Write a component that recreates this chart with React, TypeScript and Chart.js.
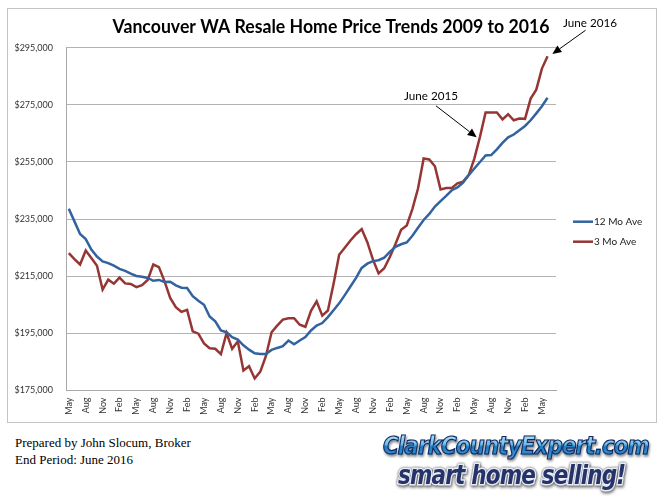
import React, { useEffect, useLayoutEffect, useRef, useState } from "react";
import { Chart, registerables } from "chart.js";

Chart.register(...registerables);

// ---------- DATA ----------
const titleText = "Vancouver WA Resale Home Price Trends 2009 to 2016";
const seriesNames = ["12 Mo Ave", "3 Mo Ave"];
const seriesColors = ["#32639f", "#963634"];

// Monthly categories: May 2009 .. June 2016 (86 months) + one empty slot
const monthNames = ["Jan", "Feb", "Mar", "Apr", "May", "Jun", "Jul", "Aug", "Sep", "Oct", "Nov", "Dec"];
const categories: string[] = [];
for (let k = 0; k < 87; k++) {
  const m = (4 + k) % 12;
  const y = 2009 + Math.floor((4 + k) / 12);
  categories.push(`${monthNames[m]} ${y}`);
}

// Axis labels shown every third month
const tickLabels = [
  "May", "Aug", "Nov", "Feb", "May", "Aug", "Nov", "Feb", "May", "Aug",
  "Nov", "Feb", "May", "Aug", "Nov", "Feb", "May", "Aug", "Nov", "Feb",
  "May", "Aug", "Nov", "Feb", "May", "Aug", "Nov", "Feb", "May",
];

const yMin = 175000;
const yMax = 295000;
const yStep = 20000;

// 12 month moving average (thousands of dollars)
const ave12 = [
  238.6, 234.2, 229.8, 228.0, 224.3, 221.9, 220.2, 219.6, 218.7, 217.6,
  216.9, 215.9, 215.1, 214.8, 214.4, 213.4, 213.7, 213.0, 213.1, 211.8,
  211.0, 210.9, 208.0, 206.4, 205.0, 200.9, 199.2, 196.0, 195.4, 193.7,
  192.8, 190.8, 189.3, 188.0, 187.8, 187.8, 189.2, 189.9, 190.5, 192.5,
  191.2, 192.5, 193.7, 196.0, 197.7, 198.6, 200.7, 203.1, 205.5, 208.4,
  211.4, 214.4, 217.9, 219.4, 220.3, 220.6, 221.5, 223.5, 225.3, 226.2,
  226.8, 229.2, 232.0, 234.7, 236.8, 239.4, 241.3, 243.1, 245.1, 246.1,
  247.8, 250.4, 252.7, 255.0, 257.3, 257.4, 259.4, 261.7, 263.6, 264.6,
  266.1, 267.6, 269.6, 272.0, 274.5, 277.5,
];

// 3 month moving average (thousands of dollars)
const ave3 = [
  223.1, 221.0, 219.1, 224.0, 221.4, 218.7, 210.3, 213.8, 212.4, 214.5,
  212.5, 212.3, 211.2, 211.9, 213.7, 219.1, 218.2, 213.2, 207.4, 204.2,
  202.5, 203.2, 195.7, 194.9, 191.5, 189.8, 189.6, 187.7, 195.1, 189.6,
  192.2, 182.0, 183.5, 179.2, 181.6, 187.1, 195.4, 197.7, 199.8, 200.3,
  200.3, 198.0, 197.3, 202.9, 206.2, 201.2, 203.0, 212.3, 222.5, 225.0,
  227.5, 229.7, 231.5, 226.9, 220.8, 216.0, 217.8, 221.7, 226.3, 231.3,
  232.8, 238.5, 245.7, 256.2, 255.9, 253.5, 245.4, 245.9, 245.9, 247.5,
  248.1, 250.4, 256.2, 263.8, 272.3, 272.3, 272.3, 269.9, 271.7, 269.6,
  270.2, 270.1, 277.2, 280.3, 287.7, 292.0,
];

// Annotations: [label, category index]
const annotations: { text: string; index: number; tip: [number, number]; tail: [number, number]; label: [number, number] }[] = [
  { text: "June 2015", index: 73, tip: [-3.3, 0.4], tail: [-44, -31], label: [-49, -41] },
  { text: "June 2016", index: 85, tip: [4.8, -2.3], tail: [38, -26], label: [42.5, -33] },
];

const FONT = "Lato, 'Open Sans', 'DejaVu Sans', sans-serif";

function fitFill(ctx: CanvasRenderingContext2D, text: string, cx: number, cy: number, width: number) {
  const w = ctx.measureText(text).width;
  ctx.save();
  ctx.translate(cx, cy);
  ctx.scale(width / w, 1);
  ctx.textAlign = "center";
  ctx.textBaseline = "middle";
  ctx.fillText(text, 0, 0);
  ctx.restore();
}

function drawArrow(ctx: CanvasRenderingContext2D, x1: number, y1: number, x2: number, y2: number) {
  const ang = Math.atan2(y2 - y1, x2 - x1);
  const hl = 9;
  const hw = 4;
  const bx = x2 - hl * Math.cos(ang);
  const by = y2 - hl * Math.sin(ang);
  ctx.beginPath();
  ctx.moveTo(x1, y1);
  ctx.lineTo(bx, by);
  ctx.strokeStyle = "#000";
  ctx.lineWidth = 1;
  ctx.stroke();
  ctx.beginPath();
  ctx.moveTo(x2, y2);
  ctx.lineTo(bx + hw * Math.sin(ang), by - hw * Math.cos(ang));
  ctx.lineTo(bx - hw * Math.sin(ang), by + hw * Math.cos(ang));
  ctx.closePath();
  ctx.fillStyle = "#000";
  ctx.fill();
}

const overlayPlugin = {
  id: "overlay",
  afterDraw(chart: any) {
    const ctx: CanvasRenderingContext2D = chart.ctx;
    const xs = chart.scales.x;
    const ys = chart.scales.y;
    const area = chart.chartArea;
    ctx.save();

    // Title
    ctx.fillStyle = "#000";
    ctx.font = `bold 18px ${FONT}`;
    fitFill(ctx, titleText, (area.left + area.right) / 2 + 20, 18.5, 437);

    // Legend
    ctx.font = `10px ${FONT}`;
    const lx = area.right + 17;
    const legendY = [area.top + 174, area.top + 194];
    seriesNames.forEach((name, i) => {
      ctx.beginPath();
      ctx.moveTo(lx, legendY[i]);
      ctx.lineTo(lx + 20, legendY[i]);
      ctx.strokeStyle = seriesColors[i];
      ctx.lineWidth = 2.5;
      ctx.stroke();
      ctx.fillStyle = "#222";
      ctx.textAlign = "left";
      ctx.textBaseline = "middle";
      ctx.fillText(name, lx + 21, legendY[i]);
    });

    // Annotations with arrows
    annotations.forEach((a) => {
      const px = xs.getPixelForValue(a.index);
      const py = ys.getPixelForValue(ave3[a.index] * 1000);
      drawArrow(ctx, px + a.tail[0], py + a.tail[1], px + a.tip[0], py + a.tip[1]);
      ctx.fillStyle = "#000";
      ctx.font = `12px ${FONT}`;
      fitFill(ctx, a.text, px + a.label[0], py + a.label[1], 54);
    });

    ctx.restore();
  },
};

function FitText({ width, style, children }: { width: number; style: React.CSSProperties; children: React.ReactNode }) {
  const ref = useRef<HTMLSpanElement>(null);
  const [scale, setScale] = useState(1);
  useLayoutEffect(() => {
    const el = ref.current;
    if (!el) return;
    const w = el.offsetWidth;
    if (w > 0) setScale(width / w);
  }, [width]);
  return (
    <span
      ref={ref}
      style={{
        display: "inline-block",
        whiteSpace: "nowrap",
        transform: `scaleX(${scale})`,
        transformOrigin: "left top",
        ...style,
      }}
    >
      {children}
    </span>
  );
}

export default function App() {
  const canvasRef = useRef<HTMLCanvasElement>(null);

  useEffect(() => {
    const canvas = canvasRef.current;
    if (!canvas) return;
    const chart = new Chart(canvas, {
      type: "line",
      data: {
        labels: categories,
        datasets: [
          {
            label: seriesNames[0],
            data: ave12.map((v) => v * 1000),
            borderColor: seriesColors[0],
            backgroundColor: seriesColors[0],
            borderWidth: 2.5,
            pointRadius: 0,
            tension: 0,
            fill: false,
          },
          {
            label: seriesNames[1],
            data: ave3.map((v) => v * 1000),
            borderColor: seriesColors[1],
            backgroundColor: seriesColors[1],
            borderWidth: 2.5,
            pointRadius: 0,
            tension: 0,
            fill: false,
          },
        ],
      },
      options: {
        animation: false,
        responsive: false,
        devicePixelRatio: 1,
        layout: { padding: { left: 0, right: 100, top: 38.7, bottom: 0 } },
        plugins: {
          legend: { display: false },
          title: { display: false },
          tooltip: { enabled: false },
        },
        scales: {
          x: {
            type: "category",
            offset: true,
            grid: { display: false, drawTicks: false },
            border: { display: true, color: "#a8a8a8", width: 1 },
            ticks: {
              autoSkip: false,
              maxRotation: 90,
              minRotation: 90,
              padding: 7,
              color: "#333",
              font: { family: FONT, size: 9 },
              callback: (_v: any, i: number) =>
                i % 3 === 0 && i / 3 < tickLabels.length ? tickLabels[i / 3] : "",
            },
            afterFit: (s: any) => {
              s.height = 31.5;
            },
          },
          y: {
            min: yMin,
            max: yMax,
            grid: { color: "#b3b3b3", lineWidth: 1, drawTicks: false },
            border: { display: true, color: "#a8a8a8", width: 1 },
            ticks: {
              stepSize: yStep,
              padding: 13,
              color: "#333",
              font: { family: FONT, size: 9 },
              callback: (v: any) => "$" + Number(v).toLocaleString("en-US"),
            },
            afterFit: (s: any) => {
              s.width = 58;
            },
          },
        },
      },
      plugins: [overlayPlugin],
    });
    return () => chart.destroy();
  }, []);

  return (
    <div style={{ position: "absolute", left: 0, top: 0, width: 663, height: 503, background: "#fff" }}>
      <div
        style={{
          position: "absolute",
          left: 7,
          top: 8,
          width: 648,
          height: 413,
          border: "1px solid #c4c4c4",
        }}
      >
        <canvas ref={canvasRef} width={648} height={413} style={{ display: "block", width: 648, height: 413 }} />
      </div>
      <div
        style={{
          position: "absolute",
          left: 15,
          top: 434,
          fontFamily: "'Liberation Serif', 'Times New Roman', serif",
          fontSize: 13,
          lineHeight: "17px",
          color: "#000",
        }}
      >
        <div>Prepared by John Slocum, Broker</div>
        <div>End Period: June 2016</div>
      </div>
      <div style={{ position: "absolute", left: 383, top: 433, lineHeight: 1 }}>
        <FitText
          width={266}
          style={{
            fontFamily: "'DejaVu Sans', sans-serif",
            fontWeight: 900,
            fontStyle: "italic",
            fontSize: 25,
            letterSpacing: -1,
            background: "linear-gradient(to bottom, #bfe6fa 0%, #6cc0ec 45%, #1f7cc4 55%, #3d9ad8 100%)",
            WebkitBackgroundClip: "text",
            backgroundClip: "text",
            color: "transparent",
            WebkitTextStroke: "1.2px #16265a",
            filter: "drop-shadow(1px 2px 1px rgba(0,0,0,0.45))",
          }}
        >
          ClarkCountyExpert.com
        </FitText>
      </div>
      <div style={{ position: "absolute", left: 398, top: 462, lineHeight: 1 }}>
        <FitText
          width={227}
          style={{
            fontFamily: "'DejaVu Sans', sans-serif",
            fontWeight: 900,
            fontStyle: "italic",
            fontSize: 26,
            letterSpacing: -1,
            color: "#26336a",
            WebkitTextStroke: "3px #e8ecf4",
            paintOrder: "stroke fill",
            filter: "drop-shadow(0px 0px 1px #555) drop-shadow(1px 2px 1px rgba(0,0,0,0.4))",
          } as React.CSSProperties}
        >
          smart home selling!
        </FitText>
      </div>
    </div>
  );
}
